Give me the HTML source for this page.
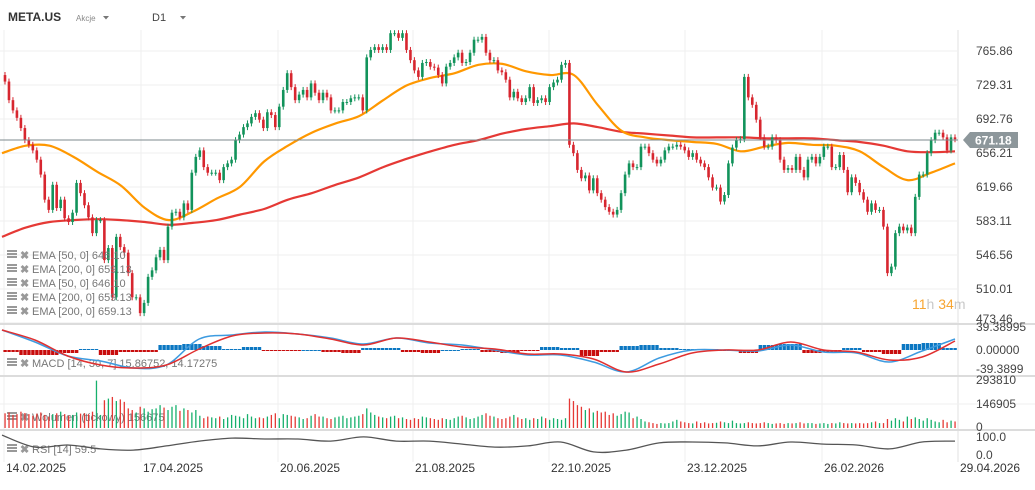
<!DOCTYPE html>
<html><head><meta charset="utf-8">
<style>
html,body{margin:0;padding:0;background:#fff;}
body{width:1035px;height:485px;overflow:hidden;font-family:"Liberation Sans",sans-serif;}
svg text{font-family:"Liberation Sans",sans-serif;}
</style></head>
<body>
<svg id="chart" width="1035" height="485" viewBox="0 0 1035 485" xmlns="http://www.w3.org/2000/svg">
  <g id="grid"></g>
  <g id="header">
    <text x="8" y="21" font-size="12" font-weight="bold" fill="#333">META.US</text>
    <text x="76" y="21" font-size="8" fill="#888">Akcje</text>
    <path d="M103 16 l6 0 l-3 3.5z" fill="#777"/>
    <text x="152" y="21" font-size="11" fill="#444">D1</text>
    <path d="M180 16 l6 0 l-3 3.5z" fill="#777"/>
  </g>
  <g id="ema200"></g>
  <g id="ema50"></g>
  <g id="candles"></g>
  <line x1="0" y1="140" x2="958" y2="140" stroke="#7d8a8e" stroke-width="1"/>
  <g>
    <path d="M963 140 L970 132 L1018 132 L1018 148 L970 148 Z" fill="#8d979b"/>
    <text x="975" y="144.5" font-size="12" font-weight="bold" fill="#fff">671.18</text>
  </g>
  <g id="yaxis"></g>
  <g>
    <text x="912" y="309" font-size="14" fill="#f7a531">11<tspan fill="#c8c8c8">h</tspan> 34<tspan fill="#c8c8c8">m</tspan></text>
  </g>
  <g id="legend"></g>
  <g id="macd"></g>
  <g id="vol"></g>
  <g id="rsi"></g>
  <g id="xaxis"></g>
</svg>
<script>
const closes1 = [733,713,702,694,683,670,665,659,649,633,606,595,622,597,606,586,582,592,624,613,600,587,570,584,584,541,554,501,566,555,549,527,501,501,484,495,523,530,544,552,541,577,592,593,587,602,595,635,652,659,641,635,635,635,627,641,645,649,670,676,684,688,695,699,692,683,700,697,684,706,724,742,727,713,719,724,716,731,721,713];
const closes2 = [721,716,702,702,702,711,711,715,716,716,702,759,767,770,767,770,767,785,785,780,785,767,756,745,738,753,754,749,748,740,731,749,753,759,764,753,754,764,778,778,781,764,756,756,745,743,735,716,722,715,711,715,727,710,713,715,711,727,732,735,751,753,665,656,638,629,632,616,629,613,606,598,593,590,595,613,633,645,641,641,663];
const closes3 = [663,656,649,645,649,659,663,663,665,663,659,652,656,649,645,641,630,619,619,604,611,645,662,670,671,738,716,708,692,673,663,663,673,670,649,638,640,638,652,638,630,649,652,645,652,663,663,641,641,654,638,614,630,624,614,606,593,602,595,595,577,527,534,570,577,573,576,570,609,633,633,656,670,678,678,673,659,673,671];
const volumes = [90,95,80,85,100,92,85,75,88,95,80,70,85,90,100,85,75,80,95,88,90,85,100,290,80,170,180,190,165,175,160,120,110,95,130,120,100,115,120,140,125,110,130,140,105,120,110,95,110,75,60,70,65,60,70,55,65,80,75,70,60,85,70,60,65,60,70,80,90,60,85,80,75,70,65,55,60,75,85,70,
70,60,55,65,70,75,60,65,70,75,85,120,95,80,70,65,60,70,75,60,65,55,50,60,55,70,65,60,55,50,60,55,50,60,70,75,65,55,60,70,80,90,75,70,60,55,60,70,80,65,55,60,50,60,55,70,60,50,60,55,50,60,180,165,140,130,110,120,95,105,95,100,80,90,75,85,100,95,60,70,55,
40,35,30,25,30,28,30,40,50,40,35,30,28,40,30,35,28,30,32,40,35,30,45,30,28,30,35,30,28,30,35,30,25,28,30,25,30,28,30,35,28,30,30,25,28,30,25,30,28,35,30,28,30,28,30,28,30,35,40,30,30,55,45,60,50,40,70,55,65,55,45,60,50,40,35,50,35,45,40];
const ema50 = [656,664,664,652,636,621,597,584,593,607,620,647,664,678,688,696,713,729,737,742,751,752,744,740,740,708,680,673,670,668,666,658,663,667,665,664,658,641,627,635,645];
const ema200 = [566,576,582,584,585,584,582,579,581,584,590,596,606,613,622,630,641,650,658,665,670,677,682,685,688,684,679,677,675,673,673,673,672,672,672,670,668,664,658,657,658];
const macdLine = [40,16,-12,-22,-36,-30,22,30,36,32,24,12,24,14,10,0,-10,-10,-24,-44,-16,0,0,-2,10,-4,-6,-24,-2,22];
const signalLine = [40,20,-12,-30,-36,-30,2,28,34,32,22,10,24,16,6,2,-8,-8,-18,-44,-28,-6,0,0,16,0,-4,-20,-14,18];
const macdHist = [-4,-10,-10,-6,2,-10,-4,-4,10,12,8,2,6,-2,-2,0,-4,-6,4,4,-4,-6,0,2,-4,-6,-2,6,4,-12,-4,8,10,4,2,2,0,-6,10,12,-6,-4,4,-4,-8,12,14,4];
const rsiVals = [83,43,50,37,33,47,63,73,70,70,63,77,63,63,53,43,47,60,27,33,57,60,57,47,60,53,50,37,60,63];
const priceTicks = ["765.86","729.31","692.76","656.21","619.66","583.11","546.56","510.01","473.46"];
const dateLabels = ["14.02.2025","17.04.2025","20.06.2025","21.08.2025","22.10.2025","23.12.2025","26.02.2026","29.04.2026"];

const NS="http://www.w3.org/2000/svg";
function mk(parent,tag,attrs){const e=document.createElementNS(NS,tag);for(const k in attrs)e.setAttribute(k,attrs[k]);parent.appendChild(e);return e;}
const closes = closes1.concat(closes2,closes3);
const N = closes.length;
const PX0=5, PX1=955;
const xi = i => PX0 + i*(PX1-PX0)/(N-1);
const yP = p => 51 + (765.86 - p)*0.930;
const yM = v => 350 - v*0.5;
const yV = v => 428 - v*1000/6121;
const yR = r => 460 - r*0.3;
const xs = (k,n) => 2 + k*(955-2)/(n-1);

function smoothPath(pts){
  let d='M'+pts[0][0].toFixed(1)+' '+pts[0][1].toFixed(1);
  for(let i=0;i<pts.length-1;i++){
    const p0=pts[Math.max(0,i-1)],p1=pts[i],p2=pts[i+1],p3=pts[Math.min(pts.length-1,i+2)];
    const c1x=p1[0]+(p2[0]-p0[0])/6,c1y=p1[1]+(p2[1]-p0[1])/6;
    const c2x=p2[0]-(p3[0]-p1[0])/6,c2y=p2[1]-(p3[1]-p1[1])/6;
    d+=' C'+c1x.toFixed(1)+' '+c1y.toFixed(1)+' '+c2x.toFixed(1)+' '+c2y.toFixed(1)+' '+p2[0].toFixed(1)+' '+p2[1].toFixed(1);
  }
  return d;
}

// grid
const grid=document.getElementById('grid');
const dateX=[4,141,278,413,549,685,822,958];
dateX.forEach((x,i)=>{const l=mk(grid,'line',{x1:x,y1:30,x2:x,y2:462,stroke:i==7?'#e2e2e2':'#efefef','stroke-width':1});

});
const yaxis=document.getElementById('yaxis');
priceTicks.forEach(t=>{const y=yP(parseFloat(t));
 const l=mk(grid,'line',{x1:0,y1:y,x2:958,y2:y,stroke:'#efefef','stroke-width':1});
 
 
 const tx=mk(yaxis,'text',{x:976,y:Math.min(y,319)+4,'font-size':12,fill:'#444'});tx.textContent=t;
 
 });
[[324,'#dcdcdc'],[376,'#dcdcdc'],[430,'#dcdcdc'],[404,'#efefef']].forEach(([y,c])=>{const l=mk(grid,'line',{x1:0,y1:y,x2:1035,y2:y,stroke:c,'stroke-width':y==404?1:2});
 
 });
[[331,'39.38995'],[354,'0.00000'],[373,'-39.3899'],[384,'293810'],[408,'146905'],[431,'0'],[441,'100.0'],[459,'0.0']].forEach(([y,t])=>{
 const tx=mk(yaxis,'text',{x:976,y:y,'font-size':12,fill:'#444'});tx.textContent=t;
 
 });

function pline(g,arr,yf,col,w,name){
 const pts=arr.map((v,k)=>[xs(k,arr.length),yf(v)]);
 const p=mk(g,'path',{d:smoothPath(pts),fill:'none',stroke:col,'stroke-width':w,'stroke-linejoin':'round'});
 
 }

// EMA lines
pline(document.getElementById('ema200'),ema200,yP,'#e53935',2.2,'ema-200-path');
pline(document.getElementById('ema50'),ema50,yP,'#ff9800',2.2,'ema-50-path');

// candles
const cg=document.getElementById('candles');
const GREEN='#12935b', RED='#d7262f';
for(let i=0;i<N;i++){
 const o=i?closes[i-1]:740, c=closes[i];
 const col=c>=o?GREEN:RED, x=xi(i);
 const top=yP(Math.max(o,c)), bot=yP(Math.min(o,c));
 const g=mk(cg,'g',{});
 
 
 mk(g,'line',{x1:x,y1:top-3,x2:x,y2:bot+3,stroke:col,'stroke-width':1});
 mk(g,'rect',{x:x-1.3,y:top,width:2.6,height:Math.max(1,bot-top),fill:col});
}

// legend
const lg=document.getElementById('legend');
function legend(y,txt){const g=mk(lg,'g',{});
 
 
 mk(g,'rect',{x:7,y:y-8,width:10,height:2,fill:'#999'});mk(g,'rect',{x:7,y:y-5,width:10,height:2,fill:'#999'});mk(g,'rect',{x:7,y:y-2,width:10,height:2,fill:'#999'});
 const x=mk(g,'text',{x:20,y:y+1,'font-size':11,'font-weight':'bold',fill:'#999'});x.textContent='✖';
 const t=mk(g,'text',{x:32,y:y+1,'font-size':11,fill:'#777'});t.textContent=txt;}
legend(258,'EMA [50, 0] 646.10');
legend(272,'EMA [200, 0] 659.13');
legend(286,'EMA [50, 0] 646.10');
legend(300,'EMA [200, 0] 659.13');
legend(314,'EMA [200, 0] 659.13');

// MACD
const mg=document.getElementById('macd');
for(let i=0;i<N;i++){
 const x=xi(i), k=Math.max(0,Math.min(macdHist.length-1,Math.round((x-10)/20)));
 const v=macdHist[k]; const y0=yM(0), y1=yM(v);
 const r=mk(mg,'rect',{x:x-1.6,y:Math.min(y0,y1),width:3.4,height:Math.max(1,Math.abs(y1-y0)),fill:v>=0?'#0b77c2':'#c80d0d'});
 
 }
pline(mg,macdLine,yM,'#3d9be0',1.5,'macd-line');
pline(mg,signalLine,yM,'#e03030',1.5,'signal-line');
legend(366,'MACD [14, 30, 7] 15.86752, 14.17275');

// Volume
const vg=document.getElementById('vol');
for(let i=0;i<Math.min(N,volumes.length);i++){const o=i?closes[i-1]:740;
 const r=mk(vg,'rect',{x:xi(i)-0.6,y:yV(volumes[i]),width:1.3,height:428-yV(volumes[i]),fill:closes[i]>=o?'#16b06c':'#e53935'});
 
 }
legend(420,'Wolumen (tickowy) 156675');

// RSI
const rg=document.getElementById('rsi');
pline(rg,rsiVals,yR,'#555',1.3,'rsi-line');
legend(452,'RSI [14] 59.5');

// x axis
const xa=document.getElementById('xaxis');
dateLabels.forEach((t,i)=>{const tx=mk(xa,'text',{x:dateX[i]+2,y:472,'font-size':12,fill:'#333'});tx.textContent=t;
 
 });
</script>
</body></html>
